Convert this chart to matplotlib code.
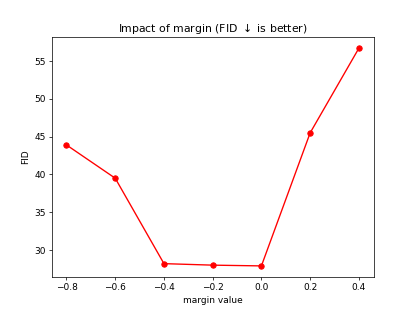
import matplotlib
matplotlib.use("Agg")
import matplotlib.pyplot as plt

# margin values and FID scores
margins = [-0.8, -0.6, -0.4, -0.2, 0.0, 0.2, 0.4]
fid = [43.9, 39.5, 28.2, 28.0, 27.9, 45.5, 56.7]

fig = plt.figure(figsize=(415 / 65, 311 / 65), dpi=65)
plt.plot(margins, fid, color="red", marker="o")
plt.title(r"Impact of margin (FID $\downarrow$ is better)")
plt.xlabel("margin value")
plt.ylabel("FID")
plt.savefig("out.png", dpi=65)
